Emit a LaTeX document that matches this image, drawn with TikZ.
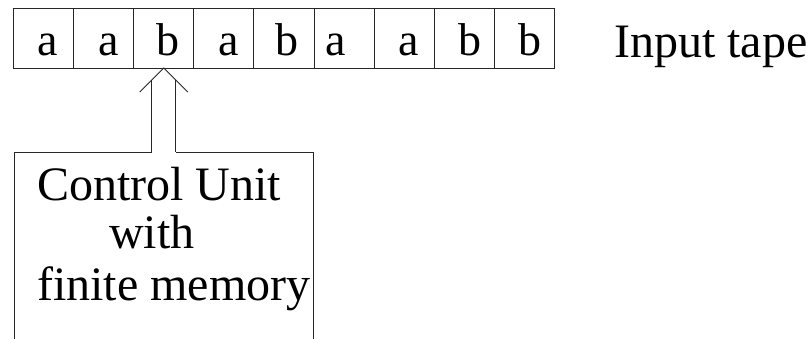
\documentclass[tikz,border=0pt]{standalone}
\usepackage{fontspec}
\setmainfont{Liberation Serif}
\begin{document}
\begin{tikzpicture}[x=1pt,y=-1pt,
 cell/.style={draw=black!85, line width=1pt, minimum width=60.1pt, minimum height=60pt, inner sep=0pt, outer sep=0pt},
 sym/.style={anchor=base, inner sep=0pt, font=\rmfamily\fontsize{46}{55}\selectfont},
 lbl/.style={anchor=base west, inner sep=0pt, font=\rmfamily\fontsize{48}{57}\selectfont},
 ln/.style={draw=black!85, line width=1pt, line join=miter}]
\useasboundingbox (0,0) rectangle (811,338);
\clip (0,0) rectangle (811,338);
\foreach \i in {1,...,9} \node[cell] (c\i) at ({13.5+60.1*(\i-0.5)},38) {};
\node[sym] (s1) at (48,55) {a};
\node[sym] (s2) at (109,55) {a};
\node[sym] (s3) at (168,55) {b};
\node[sym] (s4) at (229,55) {a};
\node[sym] (s5) at (287,55) {b};
\node[sym] (s6) at (336,55) {a};
\node[sym] (s7) at (409,55) {a};
\node[sym] (s8) at (470,55) {b};
\node[sym] (s9) at (530,55) {b};
\node[lbl] (title) at (614,57) {Input tape};
% control unit box (bottom lies below the picture)
\node[ln, minimum width=299pt, minimum height=220pt, anchor=north west, inner sep=0pt, outer sep=0pt] (cu) at (14,152) {};
\node[lbl] (t1) at (37,200) {Control Unit};
\node[lbl] (t2) at (109,248) {with};
\node[lbl] (t3) at (37,300) {finite memory};
% block arrow from control unit to cell 3
\coordinate (tip) at (c3.south);
\coordinate (bl) at ([xshift=-12pt]tip |- cu.north);
\coordinate (br) at ([xshift=12pt]tip |- cu.north);
\coordinate (hl) at ([xshift=-12pt,yshift=-12pt]tip);
\coordinate (hr) at ([xshift=12pt,yshift=-12pt]tip);
\fill[white] ([yshift=-0.6pt]bl) -- (hl) -- (hr) -- ([yshift=-0.6pt]br) -- cycle;
\draw[ln] (bl) -- (hl);
\draw[ln] (br) -- (hr);
\draw[ln] ([xshift=-24pt,yshift=-24pt]tip) -- (tip) -- ([xshift=24pt,yshift=-24pt]tip);
\end{tikzpicture}
\end{document}
